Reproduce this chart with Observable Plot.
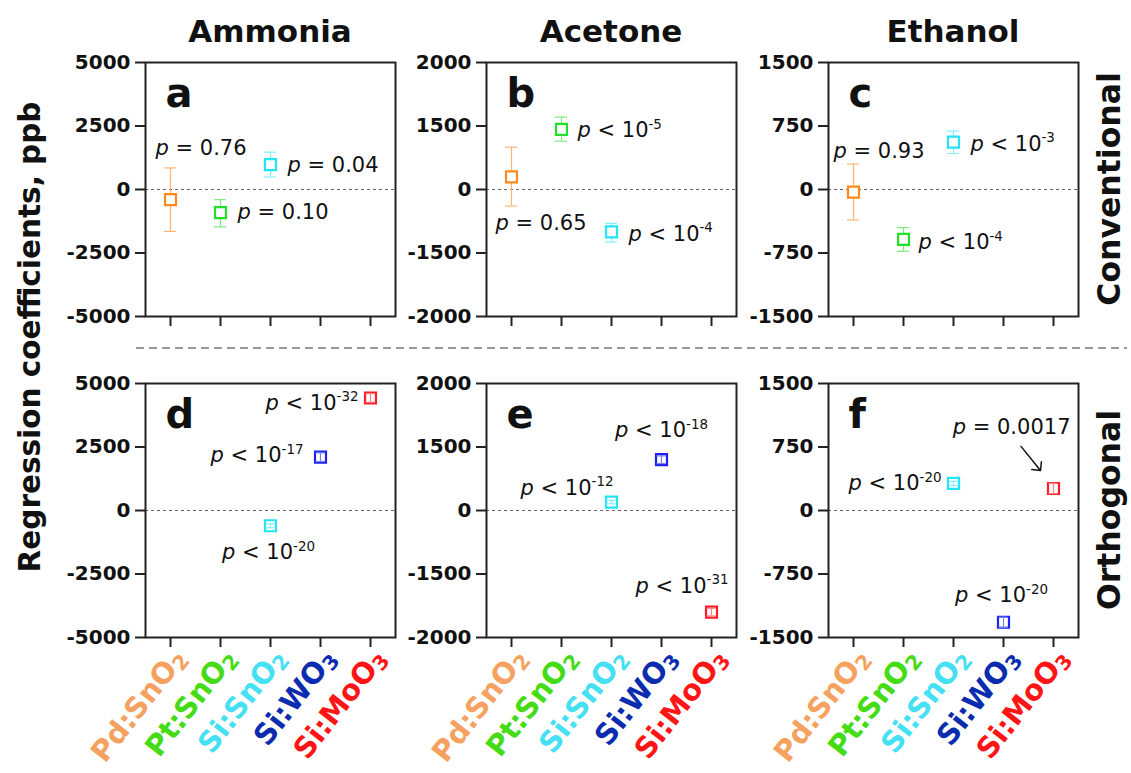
<!DOCTYPE html>
<html>
<head>
<meta charset="utf-8">
<script src="https://cdn.jsdelivr.net/npm/d3@7"></script>
<script src="https://cdn.jsdelivr.net/npm/@observablehq/plot@0.6"></script>
<style>
  body { margin: 0; background: #fff; }
  #fig { position: relative; width: 1131px; height: 773px; overflow: hidden; background: #fff; }
  #fig svg { position: absolute; overflow: visible; }
</style>
</head>
<body>
<div id="fig"></div>
<script>
// ---------- categories ----------
const materials = ["Pd:SnO2", "Pt:SnO2", "Si:SnO2", "Si:WO3", "Si:MoO3"];
const gases = ["Ammonia", "Acetone", "Ethanol"];
const models = ["Conventional", "Orthogonal"];
const panelLetters = [["a", "b", "c"], ["d", "e", "f"]];
const yTitle = "Regression coefficients, ppb";

// ---------- y ticks and their labels ----------
const ammoniaTicks = [-5000, -2500, 0, 2500, 5000];
const ammoniaTickLabels = ["-5000", "-2500", "0", "2500", "5000"];
const acetoneTicks = [-2000, -1500, 0, 1500, 2000];
const acetoneTickLabels = ["-2000", "-1500", "0", "1500", "2000"];
const ethanolTicks = [-1500, -750, 0, 750, 1500];
const ethanolTickLabels = ["-1500", "-750", "0", "750", "1500"];

// ---------- regression coefficients (ppb) with error-bar limits ----------
const conventionalAmmonia = [
  {material: "Pd:SnO2", coef: -400, low: -1650, high: 850, p: "p = 0.76"},
  {material: "Pt:SnO2", coef: -910, low: -1470, high: -400, p: "p = 0.10"},
  {material: "Si:SnO2", coef: 980, low: 490, high: 1470, p: "p = 0.04"}
];
const conventionalAcetone = [
  {material: "Pd:SnO2", coef: 300, low: -390, high: 1000, p: "p = 0.65"},
  {material: "Pt:SnO2", coef: 1420, low: 1140, high: 1570, p: "p < 10^-5"},
  {material: "Si:SnO2", coef: -1000, low: -1240, high: -800, p: "p < 10^-4"}
];
const conventionalEthanol = [
  {material: "Pd:SnO2", coef: -30, low: -360, high: 300, p: "p = 0.93"},
  {material: "Pt:SnO2", coef: -590, low: -730, high: -450, p: "p < 10^-4"},
  {material: "Si:SnO2", coef: 560, low: 425, high: 690, p: "p < 10^-3"}
];
const orthogonalAmmonia = [
  {material: "Si:SnO2", coef: -600, low: -680, high: -520, p: "p < 10^-20"},
  {material: "Si:WO3", coef: 2100, low: 1930, high: 2270, p: "p < 10^-17"},
  {material: "Si:MoO3", coef: 4430, low: 4260, high: 4600, p: "p < 10^-32"}
];
const orthogonalAcetone = [
  {material: "Si:SnO2", coef: 200, low: 160, high: 240, p: "p < 10^-12"},
  {material: "Si:WO3", coef: 1200, low: 1110, high: 1290, p: "p < 10^-18"},
  {material: "Si:MoO3", coef: -1800, low: -1830, high: -1770, p: "p < 10^-31"}
];
const orthogonalEthanol = [
  {material: "Si:SnO2", coef: 320, low: 295, high: 345, p: "p < 10^-20"},
  {material: "Si:WO3", coef: -1320, low: -1380, high: -1260, p: "p < 10^-20"},
  {material: "Si:MoO3", coef: 260, low: 200, high: 320, p: "p = 0.0017"}
];

// ---------- colours, one per material ----------
const markerColors = ["#ff8a1c", "#22e02a", "#22e4f4", "#1c22f0", "#ff1c24"];
const barColors = ["#ffb476", "#7cec7c", "#86eef8", "#7c80f6", "#ff8088"];
const labelColors = ["#f5a15f", "#45dc16", "#45e0f3", "#0b2cae", "#ff1515"];
const colorOf = (list) => (m) => list[materials.indexOf(m)];

// ---------- layout ----------
const FONT = '"DejaVu Sans", sans-serif';
const frameLeft = [145, 486, 828];
const frameTop = [62, 383];
const frameW = 250, frameH = 254;
const mLeft = 82, mRight = 6, mTop = 12;
const mBottom = [22, 134];

// where each p-value label sits relative to its marker (pixels)
const labelPlacement = {
  a: [{anchor: "start", dx: -15, dy: -51}, {anchor: "start", dx: 17, dy: 0}, {anchor: "start", dx: 17, dy: 1}],
  b: [{anchor: "start", dx: -16, dy: 46}, {anchor: "start", dx: 16, dy: 1}, {anchor: "start", dx: 17, dy: 2}],
  c: [{anchor: "start", dx: -20, dy: -41}, {anchor: "start", dx: 15, dy: 3}, {anchor: "start", dx: 17, dy: 2}],
  d: [{anchor: "middle", dx: -2, dy: 27}, {anchor: "end", dx: -17, dy: -2}, {anchor: "end", dx: -12, dy: 5}],
  e: [{anchor: "end", dx: 2, dy: -14}, {anchor: "middle", dx: 0, dy: -29}, {anchor: "end", dx: 17, dy: -26}],
  f: [{anchor: "end", dx: -12, dy: 0}, {anchor: "middle", dx: -2, dy: -27}, {anchor: "end", dx: 17, dy: -61}]
};

const panels = [
  {row: 0, col: 0, rows: conventionalAmmonia, ticks: ammoniaTicks, tickLabels: ammoniaTickLabels},
  {row: 0, col: 1, rows: conventionalAcetone, ticks: acetoneTicks, tickLabels: acetoneTickLabels},
  {row: 0, col: 2, rows: conventionalEthanol, ticks: ethanolTicks, tickLabels: ethanolTickLabels},
  {row: 1, col: 0, rows: orthogonalAmmonia, ticks: ammoniaTicks, tickLabels: ammoniaTickLabels},
  {row: 1, col: 1, rows: orthogonalAcetone, ticks: acetoneTicks, tickLabels: acetoneTickLabels},
  {row: 1, col: 2, rows: orthogonalEthanol, ticks: ethanolTicks, tickLabels: ethanolTickLabels, arrowTo: "Si:MoO3"}
];

// italic p and superscript exponent for p-value labels
function formatPValue(el) {
  const m = el.textContent.match(/^p(\s[<=]\s)([^^]*)(?:\^(.*))?$/);
  if (!m) return;
  const t = d3.select(el);
  t.text(null);
  t.append("tspan").style("font-style", "italic").text("p");
  t.append("tspan").text(m[1] + m[2]);
  if (m[3]) t.append("tspan").attr("dy", "-0.62em").style("font-size", "0.64em").text(m[3]);
}
// subscript the trailing digit in a chemical formula
function formatFormula(el) {
  const m = el.textContent.match(/^(.*?)(\d)$/);
  if (!m) return;
  const t = d3.select(el);
  t.text(null);
  t.append("tspan").text(m[1]);
  t.append("tspan").attr("dy", "0.2em").style("font-size", "0.7em").text(m[2]);
}

const fig = document.getElementById("fig");

function drawPanel({row, col, rows, ticks, tickLabels, arrowTo}) {
  const letter = panelLetters[row][col];
  const height = mTop + frameH + mBottom[row];
  const width = mLeft + frameW + mRight;
  const yRange = ticks.map((_, i) => mTop + frameH - i * frameH / (ticks.length - 1));
  const stroke = colorOf(markerColors);
  const barStroke = colorOf(barColors);
  const inset = row === 0 ? 0 : 1.5;

  const bars = [
    Plot.ruleX(rows, {x: "material", y1: "low", y2: "high", stroke: d => barStroke(d.material), strokeWidth: 1.2}),
    Plot.tickY(rows, {x: "material", y: "low", stroke: d => barStroke(d.material), strokeWidth: 1.2, inset}),
    Plot.tickY(rows, {x: "material", y: "high", stroke: d => barStroke(d.material), strokeWidth: 1.2, inset})
  ];
  const dots = Plot.dot(rows, {
    x: "material", y: "coef", symbol: "square", r: 6.2,
    stroke: d => stroke(d.material), strokeWidth: 2.2, fill: "white"
  });

  const pLabels = rows.map((d, i) => {
    const pl = labelPlacement[letter][i];
    return Plot.text([d], {
      x: "material", y: "coef", text: "p", textAnchor: pl.anchor, dx: pl.dx, dy: pl.dy,
      fontSize: 21, fill: "#111"
    });
  });

  const marks = [
    Plot.ruleY([0], {stroke: "#666", strokeWidth: 1, strokeDasharray: "3,3"}),
    Plot.axisY({
      ticks, tickFormat: d => tickLabels[ticks.indexOf(d)], tickSize: 10, tickPadding: 5,
      strokeWidth: 2, stroke: "#222", fontSize: 20, fontWeight: "bold", fill: "#111", label: null
    }),
    Plot.axisX({tickSize: 10, tickFormat: () => "", strokeWidth: 2, stroke: "#222", label: null}),
    ...(row === 0 ? [...bars, dots] : [dots, ...bars]),
    ...pLabels,
    Plot.text([letter], {
      frameAnchor: "top-left", text: d => d, textAnchor: "start", lineAnchor: "bottom",
      dx: 20, dy: 44, fontSize: 40, fontWeight: "bold", fill: "#111"
    }),
    Plot.frame({stroke: "#222", strokeWidth: 2})
  ];

  if (row === 1) {
    marks.push(Plot.text(materials, {
      x: d => d, text: d => d, frameAnchor: "bottom", rotate: -52,
      textAnchor: "end", lineAnchor: "bottom", dx: 17, dy: 21,
      fill: d => colorOf(labelColors)(d), fontSize: 29, fontWeight: "bold"
    }));
  }
  if (arrowTo) {
    marks.push(Plot.vector(rows.filter(d => d.material === arrowTo), {
      x: "material", y: "coef", length: 31, rotate: 141, anchor: "end",
      dx: -13, dy: -18, stroke: "#111", strokeWidth: 1.5
    }));
  }

  const svg = Plot.plot({
    width, height,
    marginLeft: mLeft, marginRight: mRight, marginTop: mTop, marginBottom: mBottom[row],
    style: {fontFamily: FONT, overflow: "visible", background: "transparent"},
    x: {type: "band", domain: materials, paddingInner: 0.76, paddingOuter: 0.38, align: 0.5},
    y: {type: "linear", domain: ticks, range: yRange},
    color: {type: "identity"},
    marks
  });

  svg.querySelectorAll("text").forEach(el => {
    const s = el.textContent;
    if (/^p\s[<=]\s/.test(s)) formatPValue(el);
    else if (materials.includes(s)) formatFormula(el);
  });

  svg.style.position = "absolute";
  svg.style.left = (frameLeft[col] - mLeft) + "px";
  svg.style.top = (frameTop[row] - mTop) + "px";
  fig.appendChild(svg);
}

// shared titles, row labels, axis title and the divider between the two model rows
const overlay = d3.select(fig).append("svg")
  .attr("width", 1131).attr("height", 773)
  .style("left", "0px").style("top", "0px")
  .style("font-family", FONT).attr("fill", "#111");

gases.forEach((g, i) => {
  overlay.append("text")
    .attr("x", frameLeft[i] + frameW / 2).attr("y", 42)
    .attr("text-anchor", "middle").attr("font-size", 31).attr("font-weight", "bold")
    .text(g);
});
models.forEach((m, r) => {
  overlay.append("text")
    .attr("transform", `translate(1120,${frameTop[r] + frameH / 2}) rotate(-90)`)
    .attr("text-anchor", "middle").attr("font-size", 31.5).attr("font-weight", "bold")
    .text(m);
});
overlay.append("text")
  .attr("transform", "translate(40,337) rotate(-90)")
  .attr("text-anchor", "middle").attr("font-size", 29.5).attr("font-weight", "bold")
  .text(yTitle);
overlay.append("line")
  .attr("x1", 136).attr("x2", 1127).attr("y1", 348).attr("y2", 348)
  .attr("stroke", "#777").attr("stroke-width", 1.5).attr("stroke-dasharray", "8,5");

panels.forEach(drawPanel);
</script>
</body>
</html>
